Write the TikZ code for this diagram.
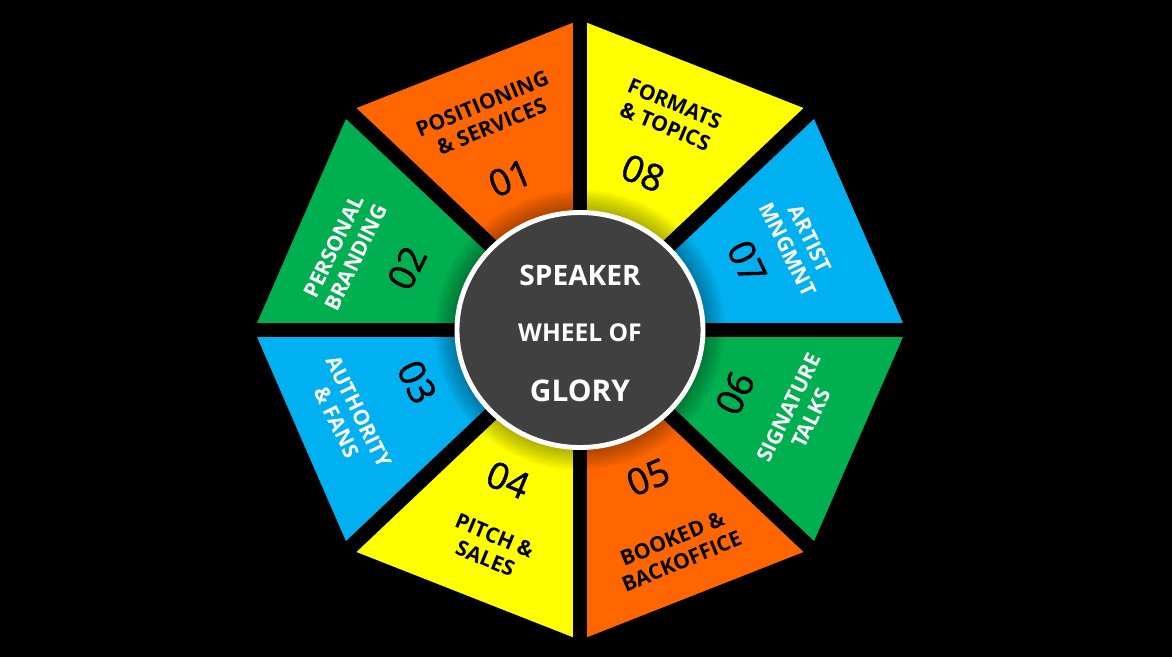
\documentclass[tikz,border=0pt]{standalone}
\usepackage{fontspec}
\setmainfont{Open Sans}
\newfontfamily\numfont{Open Sans}[FakeBold=1.2]
\usepackage{xcolor}
\definecolor{segorange}{RGB}{255,102,0}
\definecolor{segyellow}{RGB}{255,255,0}
\definecolor{seggreen}{RGB}{0,176,80}
\definecolor{segblue}{RGB}{0,176,240}
\definecolor{hubgray}{RGB}{64,64,64}
\tikzset{
  seglabel/.style={font=\bfseries\fontsize{12}{14}\selectfont,align=center,inner sep=0pt},
  segnum/.style={font=\numfont\fontsize{21}{21}\selectfont,text=black,inner sep=0pt},
  hubtext/.style={text=white,inner sep=0pt}
}

\begin{document}
\begin{tikzpicture}[x=0.02cm,y=0.02cm,line join=round]
  % black page
  \fill[black] (-580,-327) rectangle (592,330);
  \useasboundingbox (-580,-327) rectangle (592,330);
  % eight wedges of the octagon
  \foreach \i/\fc in {1/segorange,2/seggreen,3/segblue,4/segyellow,5/segorange,6/seggreen,7/segblue,8/segyellow}{
    \fill[\fc] (0,0) -- ({45+45*\i}:326 and 310) -- ({90+45*\i}:326 and 310) -- cycle;
  }
  % black gaps between the wedges
  \foreach \a in {0,45,...,315}{\draw[black,line width=8.5pt] (0,0) -- (\a:336 and 318);}
  % soft shadow round the hub
  \foreach \k in {1,...,8}{\fill[black,opacity=0.04] (0,0) ellipse ({125+2.5*\k} and {120+2.5*\k});}
  % the hub
  \filldraw[fill=hubgray,draw=white,line width=2.8pt] (0,0) ellipse (123 and 117.5);
  \node[hubtext,font=\bfseries\fontsize{16}{16}\selectfont] (speaker) at (0,55) {SPEAKER};
  \node[hubtext,font=\bfseries\fontsize{14}{14}\selectfont] (wheel) at (0,-3) {WHEEL OF};
  \node[hubtext,font=\bfseries\fontsize{17}{17}\selectfont] (glory) at (0,-61) {GLORY};
  % labels and numbers, turned with their wedge
  \foreach \i/\tc/\rot/\lx/\ly/\nx/\ny/\lab in {
      1/black/22.5/-93/215/-70/152/{POSITIONING\\\& SERVICES},
      2/white/64/-235/78/-173/62/{PERSONAL\\BRANDING},
      3/white/-64/-232/-87/-163/-52/{AUTHORITY\\\& FANS},
      4/black/-22.5/-90/-217/-72/-150/{PITCH \&\\SALES},
      5/black/22.5/97/-220/68/-147/{BOOKED \&\\BACKOFFICE},
      6/white/64/220/-83/155/-63/{SIGNATURE\\TALKS},
      7/white/-64/219/86/167/68/{ARTIST\\MNGMNT},
      8/black/-22.5/90/215/63/157/{FORMATS\\\& TOPICS}}{
    \node[seglabel,text=\tc,rotate=\rot] (lab\i) at (\lx,\ly) {\lab};
    \node[segnum,rotate=\rot] (num\i) at (\nx,\ny) {0\i};
  }
\end{tikzpicture}
\end{document}
